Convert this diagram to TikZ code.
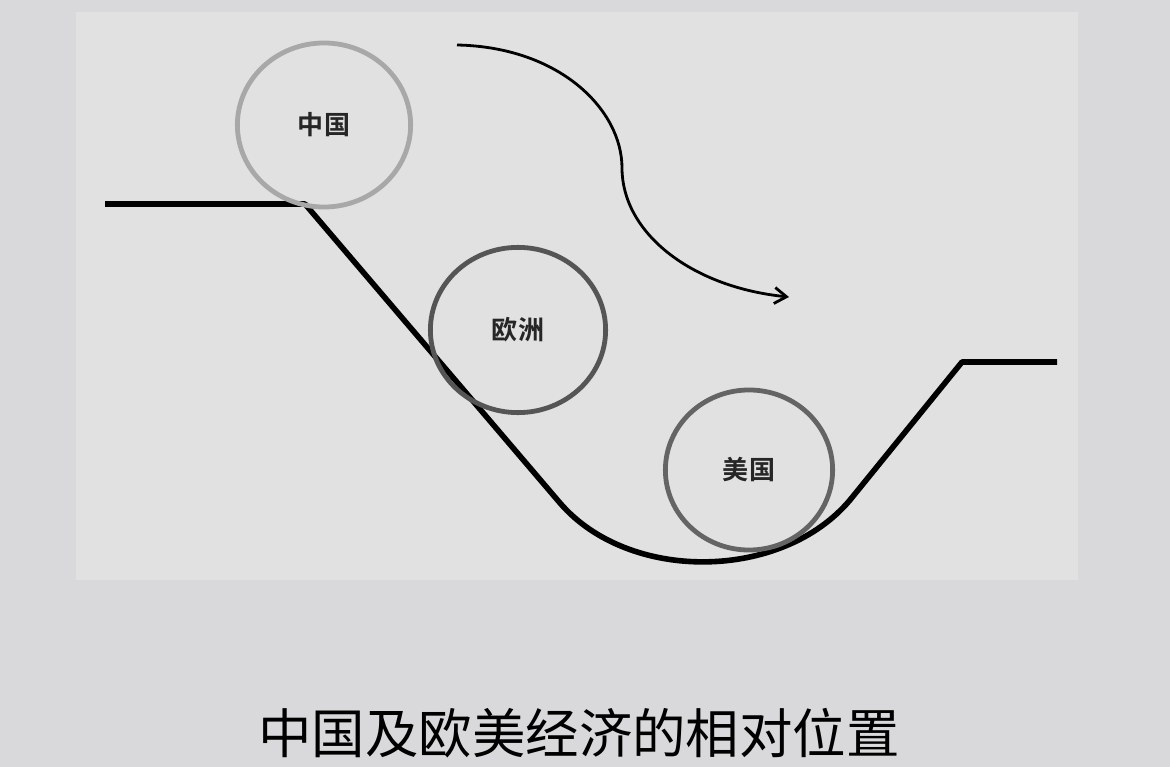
\documentclass[tikz,border=0pt]{standalone}
\usepackage{fontspec}
\usepackage{tikz}
\usetikzlibrary{shapes.geometric,arrows.meta}
\newfontfamily\cjk{Noto Sans CJK SC}[BoldFont={Noto Sans CJK SC Bold}]
\definecolor{pagegray}{RGB}{217,217,219}
\definecolor{panelgray}{RGB}{225,225,225}
\definecolor{ringlight}{RGB}{168,168,168}
\definecolor{ringdark}{RGB}{85,85,85}
\definecolor{ringmid}{RGB}{100,100,100}

\begin{document}
\begin{tikzpicture}[x=0.025cm,y=-0.025cm]
  \tikzstyle{economy}=[ellipse,draw,line width=0.12cm,inner sep=0pt,
    text=black!85,font=\cjk\bfseries\fontsize{18.5}{18.5}\selectfont]
  \tikzstyle{track}=[line width=0.14cm,black,line join=round]
  % background
  \fill[pagegray] (0,0) rectangle (1170,767);
  \useasboundingbox (0,0) rectangle (1170,767);
  \fill[panelgray] (76,12) rectangle (1078,580);
  % the track
  \coordinate (L1) at (105,204);
  \coordinate (L2) at (305,204);
  \coordinate (L3) at (560,503);
  \coordinate (L4) at (850,500);
  \coordinate (L5) at (962,362);
  \coordinate (L6) at (1057,362);
  \draw[track] (L1) -- (L2) -- (L3)
    .. controls (629,583) and (782,581) .. (L4) -- (L5) -- (L6);
  % the economies
  \node[economy,draw=ringlight,minimum width=4.33cm,minimum height=4.1cm]
    (CN) at (324,125) {中国};
  \node[economy,draw=ringdark,minimum width=4.38cm,minimum height=4.13cm]
    (EU) at (518,330) {欧洲};
  \node[economy,draw=ringmid,minimum width=4.18cm,minimum height=4.0cm]
    (US) at (749,470) {美国};
  % direction of motion
  \coordinate (A1) at (457,45);
  \coordinate (A2) at (622,168);
  \coordinate (A3) at (789,297);
  \draw[line width=0.07cm,-{Straight Barb[length=0.3cm,width=0.4cm]}]
    (A1) .. controls (560,47) and (622,110) .. (A2)
    .. controls (622,232) and (690,287) .. (A3);
  % caption
  \node[font=\cjk\fontsize{38}{38}\selectfont] (caption) at (579,733)
    {中国及欧美经济的相对位置};
\end{tikzpicture}
\end{document}
